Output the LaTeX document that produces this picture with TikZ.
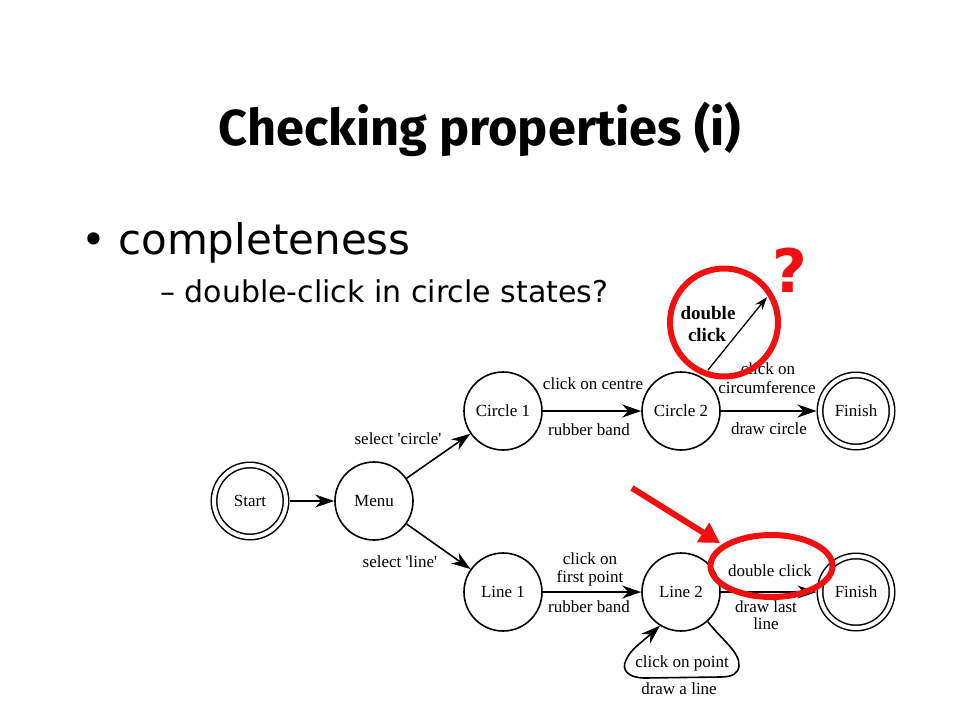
\documentclass[tikz,border=0pt]{standalone}
\usepackage{fontspec}
\setmainfont{Liberation Serif}
\newfontfamily\bodyfont{DejaVu Sans}
\newfontfamily\titlefont{Fira Sans}
\usetikzlibrary{arrows.meta}
\definecolor{annot}{RGB}{240,16,16}
\begin{document}
\begin{tikzpicture}[x=1pt,y=-1pt,
  state/.style={circle,draw,line width=1.6pt,minimum size=78pt,inner sep=0pt,
                font=\fontsize{17}{19}\selectfont},
  final/.style={circle,draw,line width=1.5pt,double,double distance=4pt,
                minimum size=72pt,inner sep=0pt,outer sep=3.5pt,
                font=\fontsize{17}{19}\selectfont},
  edge/.style={line width=1.6pt,-{Stealth[length=19pt,width=13pt,inset=6pt]}},
  lbl/.style={font=\fontsize{17}{19}\selectfont,inner sep=0pt,align=center},
  redline/.style={draw=annot,line width=6pt}]
\useasboundingbox (0,0) rectangle (960,720);

% title and bullets
\node[font=\titlefont\bfseries\fontsize{50.5}{54}\selectfont,anchor=base,inner sep=0pt] (title) at (480,145) {Checking properties (i)};
\node[font=\bodyfont\fontsize{42}{46}\selectfont,anchor=base west,inner sep=0pt] (dot) at (81,254) {•};
\node[font=\bodyfont\fontsize{42}{46}\selectfont,anchor=base west,inner sep=0pt] (b1) at (118,254) {completeness};
\node[font=\bodyfont\fontsize{30}{34}\selectfont,anchor=base west,inner sep=0pt] (b2) at (160,302) {– double-click in circle states?};

% states
\node[final] (start) at (250,501) {Start};
\node[state] (menu) at (374,501) {Menu};
\node[state] (c1) at (503,411) {Circle 1};
\node[state] (c2) at (681,411) {Circle 2};
\node[final] (f1) at (856,411) {Finish};
\node[state] (l1) at (503,592) {Line 1};
\node[state] (l2) at (681,592) {Line 2};
\node[final] (f2) at (856,592) {Finish};

% transitions
\draw[edge] (start) -- (menu);
\draw[edge] (menu) -- (c1);
\draw[edge] (menu) -- (l1);
\draw[edge] (c1) -- (c2);
\draw[edge] (c2) -- (f1);
\draw[edge] (l1) -- (l2);
\draw[edge] (l2) -- (f2);
\coordinate (lpA) at (739,666);
\coordinate (lpB) at (720,677);
\coordinate (lpC) at (645,678);
\coordinate (lpD) at (626,660);
\draw[edge] (l2.-48) .. controls (722,640) and (740,652) .. (lpA)
   .. controls (738,674) and (732,677) .. (lpB) -- (lpC)
   .. controls (628,678) and (621,670) .. (lpD)
   .. controls (630,650) and (642,642) .. (l2.-122);

% labels
\node[lbl] (s1) at (398,439) {select \textquotesingle circle\textquotesingle};
\node[lbl] (s2) at (400,562) {select \textquotesingle line\textquotesingle};
\node[lbl] (t1) at (593,384) {click on centre};
\node[lbl] (t1b) at (589,430) {rubber band};
\node[lbl] (t2a) at (768,369) {click on};
\node[lbl] (t2b) at (767,388) {circumference};
\node[lbl] (t2c) at (769,429) {draw circle};
\node[lbl] (t3a) at (590,559) {click on};
\node[lbl] (t3b) at (590,578) {first point};
\node[lbl] (t3c) at (589,607) {rubber band};
\node[lbl] (t4) at (770,571) {double click};
\node[lbl] (t4a) at (766,607) {draw last};
\node[lbl] (t4b) at (766,624) {line};
\node[lbl] (t5) at (682,663) {click on point};
\node[lbl] (t5b) at (679,689) {draw a line};

% red annotations
\node[circle,redline,minimum size=108pt,inner sep=0pt] (rc) at (724,322.5) {};
\node[font=\bfseries\fontsize{19}{22}\selectfont,inner sep=0pt] (dc1) at (708,313) {double};
\node[font=\bfseries\fontsize{19}{22}\selectfont,inner sep=0pt] (dc2) at (707,335) {click};
\coordinate (dcs) at (708,370);
\coordinate (dce) at (767,297);
\draw[line width=1.3pt,-{Stealth[length=13pt,width=9pt,inset=4pt]}] (dcs) -- (dce);
\node[text=annot,font=\bodyfont\bfseries\fontsize{60}{60}\selectfont,inner sep=0pt] (q) at (790,270) {?};
\draw[redline] (771.5,566) ellipse [x radius=61pt,y radius=31pt];
\coordinate (ra1) at (632,488);
\coordinate (ra2) at (720,543);
\draw[redline,-{Triangle[length=20pt,width=22pt]}] (ra1) -- (ra2);
\end{tikzpicture}
\end{document}
